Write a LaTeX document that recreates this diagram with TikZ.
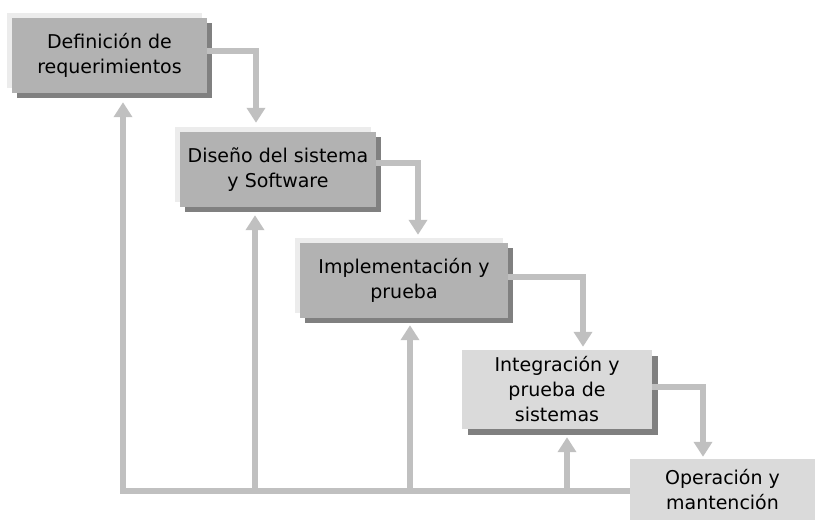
\documentclass[tikz,border=0pt]{standalone}
\usepackage{fontspec}
\setmainfont{DejaVu Sans}
\usepackage{xcolor}
\usetikzlibrary{arrows.meta, shadows}
\definecolor{boxdark}{RGB}{178,178,178}
\definecolor{boxlight}{RGB}{218,218,218}
\definecolor{boxshade}{RGB}{128,128,128}
\definecolor{boxframe}{RGB}{236,236,236}
\definecolor{flowgray}{RGB}{192,192,192}
\tikzset{
  stage/.style={
    align=center,
    inner sep=0pt,
    font=\fontsize{19}{25}\selectfont
  },
  stagedark/.style={
    stage,
    fill=boxdark,
    general shadow={fill=boxframe, shadow xshift=-5pt, shadow yshift=5pt},
    general shadow={fill=boxshade, shadow xshift=5pt, shadow yshift=-5pt}
  },
  stagelight/.style={
    stage,
    fill=boxlight,
    general shadow={fill=boxshade, shadow xshift=6pt, shadow yshift=-6pt}
  },
  stagelast/.style={
    stage,
    fill=boxlight
  },
  flow/.style={
    draw=flowgray,
    line width=6pt,
    -{Triangle[width=18pt, length=15pt]}
  }
}
\begin{document}
\begin{tikzpicture}[x=1pt, y=-1pt]
\useasboundingbox (0,0) rectangle (816,521);
\node[stagedark, minimum width=195pt, minimum height=75pt] (S1) at (109.5,55.5) {Definición de\\requerimientos};
\node[stagedark, minimum width=196pt, minimum height=75pt] (S2) at (278,169.5) {Diseño del sistema\\y Software};
\node[stagedark, minimum width=208pt, minimum height=75pt] (S3) at (404,280.5) {Implementación y\\prueba};
\node[stagelight, minimum width=190pt, minimum height=79pt] (S4) at (557,389.5) {Integración y\\prueba de\\sistemas};
\node[stagelast, minimum width=185pt, minimum height=61pt] (S5) at (722.5,489.5) {Operación y\\mantención};

\draw[flow] ([yshift=4.5pt]S1.east) -| ([xshift=-22pt, yshift=9pt]S2.north);
\draw[flow] ([yshift=6.5pt]S2.east) -| ([xshift=14pt, yshift=8pt]S3.north);
\draw[flow] ([yshift=3.5pt]S3.east) -| ([xshift=26pt, yshift=3pt]S4.north);
\draw[flow] ([yshift=2.5pt]S4.east) -| ([xshift=-19.5pt, yshift=2pt]S5.north);

\coordinate (Bend) at ([yshift=-1.5pt]S5.west);
\draw[flow] (Bend) -| ([xshift=13.5pt, yshift=-9pt]S1.south);
\draw[flow] ([xshift=-23pt]S2.south |- Bend) -- ([xshift=-23pt, yshift=-8pt]S2.south);
\draw[flow] ([xshift=6pt]S3.south |- Bend) -- ([xshift=6pt, yshift=-7pt]S3.south);
\draw[flow] ([xshift=10pt]S4.south |- Bend) -- ([xshift=10pt, yshift=-8pt]S4.south);
\end{tikzpicture}
\end{document}
